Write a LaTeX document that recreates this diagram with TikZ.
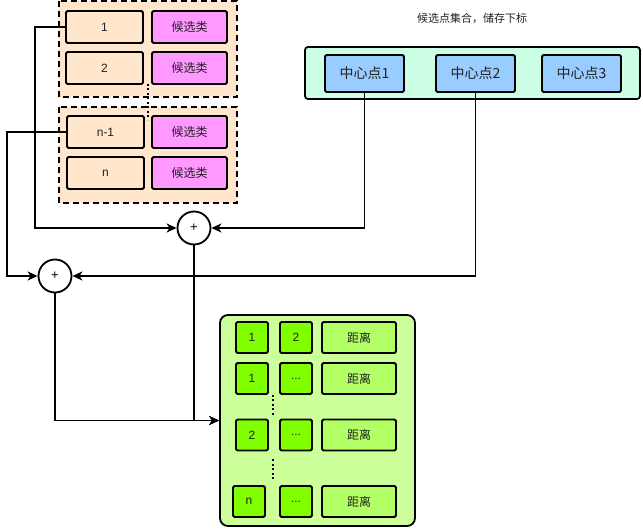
\documentclass[tikz,border=0pt]{standalone}
\usepackage{fontspec}
\setmainfont{Liberation Sans}
\newfontfamily\cjk{Noto Sans CJK SC}
\usetikzlibrary{arrows.meta}
\definecolor{peach}{HTML}{FFE6CC}
\definecolor{pinkc}{HTML}{FF99FF}
\definecolor{mint}{HTML}{CCFFE6}
\definecolor{skyb}{HTML}{99CCFF}
\definecolor{lgreen}{HTML}{CCFF99}
\definecolor{lime}{HTML}{80FF00}
\definecolor{mgreen}{HTML}{B3FF66}
\definecolor{txt}{HTML}{222222}
\tikzset{
  bx/.style={draw=black, line width=1.8pt, rounded corners=1.5pt, inner sep=0pt, text=txt, font=\fontsize{12}{14}\selectfont},
  peachbox/.style={bx, fill=peach, minimum width=77pt, minimum height=32pt},
  pinkbox/.style={bx, fill=pinkc, minimum width=75pt, minimum height=32pt, font=\fontsize{12}{14}\selectfont\cjk},
  bluebox/.style={bx, fill=skyb, minimum width=79pt, minimum height=37pt, font=\fontsize{14}{16}\selectfont\cjk},
  limebox/.style={bx, fill=lime, minimum width=32pt, minimum height=31pt},
  distbox/.style={bx, fill=mgreen, minimum width=74pt, minimum height=31pt, font=\fontsize{12}{14}\selectfont\cjk},
  dgroup/.style={draw=black, line width=1.8pt, dash pattern=on 6pt off 4pt, fill=peach},
  plus/.style={circle, draw=black, line width=1.8pt, fill=white, minimum size=33pt, inner sep=0pt, font=\fontsize{13}{15}\selectfont},
  conn/.style={line width=1.8pt, -{Stealth[length=10pt,width=9pt,inset=3pt]}},
  dots/.style={line width=1.8pt, dash pattern=on 2pt off 2.5pt},
}
\begin{document}
\begin{tikzpicture}[x=1pt,y=-1pt]
\useasboundingbox (0,0) rectangle (643,529);
% left groups
\draw[dgroup] (59,1) rectangle (237,97);
\draw[dgroup] (59,107) rectangle (237,203);
\node[peachbox] (p1) at (104.5,27) {1};
\node[peachbox] (p2) at (104.5,68) {2};
\node[peachbox] (p3) at (105.5,132) {n-1};
\node[peachbox] (p4) at (105.5,173) {n};
\node[pinkbox] (k1) at (189.5,27) {候选类};
\node[pinkbox] (k2) at (189.5,68) {候选类};
\node[pinkbox] (k3) at (189.5,132) {候选类};
\node[pinkbox] (k4) at (189.5,173) {候选类};
\draw[dots] (148,84) -- (148,120);
% top right
\node[font=\fontsize{11}{13}\selectfont\cjk, text=txt] (title) at (472,18) {候选点集合，储存下标};
\node[draw=black, line width=1.8pt, rounded corners=3pt, fill=mint, minimum width=335pt, minimum height=52pt] (Z) at (472.5,73) {};
\node[bluebox] (z1) at (364.5,73.5) {中心点1};
\node[bluebox] (z2) at (475.5,73.5) {中心点2};
\node[bluebox] (z3) at (581.5,73.5) {中心点3};
% plus circles
\node[plus] (c1) at (194,228) {+};
\node[plus] (c2) at (55,276) {+};
% green container
\node[draw=black, line width=1.8pt, rounded corners=8pt, fill=lgreen, minimum width=195pt, minimum height=211pt] (G) at (317.5,420.5) {};
\node[limebox] (g11) at (252,337.5) {1};
\node[limebox] (g12) at (296,337.5) {2};
\node[distbox] (g13) at (359,337.5) {距离};
\node[limebox] (g21) at (252,378.5) {1};
\node[limebox] (g22) at (296,378.5) {...};
\node[distbox] (g23) at (359,378.5) {距离};
\node[limebox] (g31) at (252,435) {2};
\node[limebox] (g32) at (296,435) {...};
\node[distbox] (g33) at (359,435) {距离};
\node[limebox] (g41) at (249,501.5) {n};
\node[limebox] (g42) at (296,501.5) {...};
\node[distbox] (g43) at (359,501.5) {距离};
\draw[dots] (273,395) -- (273,415);
\draw[dots] (273,459) -- (273,479);
% connectors
\draw[conn] (p1.west) -- ++(-30,0) |- (c1.west);
\draw[conn] (p3.west) -- ++(-59,0) |- (c2.west);
\draw[conn] (z1.south) |- (c1.east);
\draw[conn] (z2.south) |- (c2.east);
\draw[conn] (c1.south) |- (G.west);
\draw[conn] (c2.south) |- (G.west);
\end{tikzpicture}
\end{document}
